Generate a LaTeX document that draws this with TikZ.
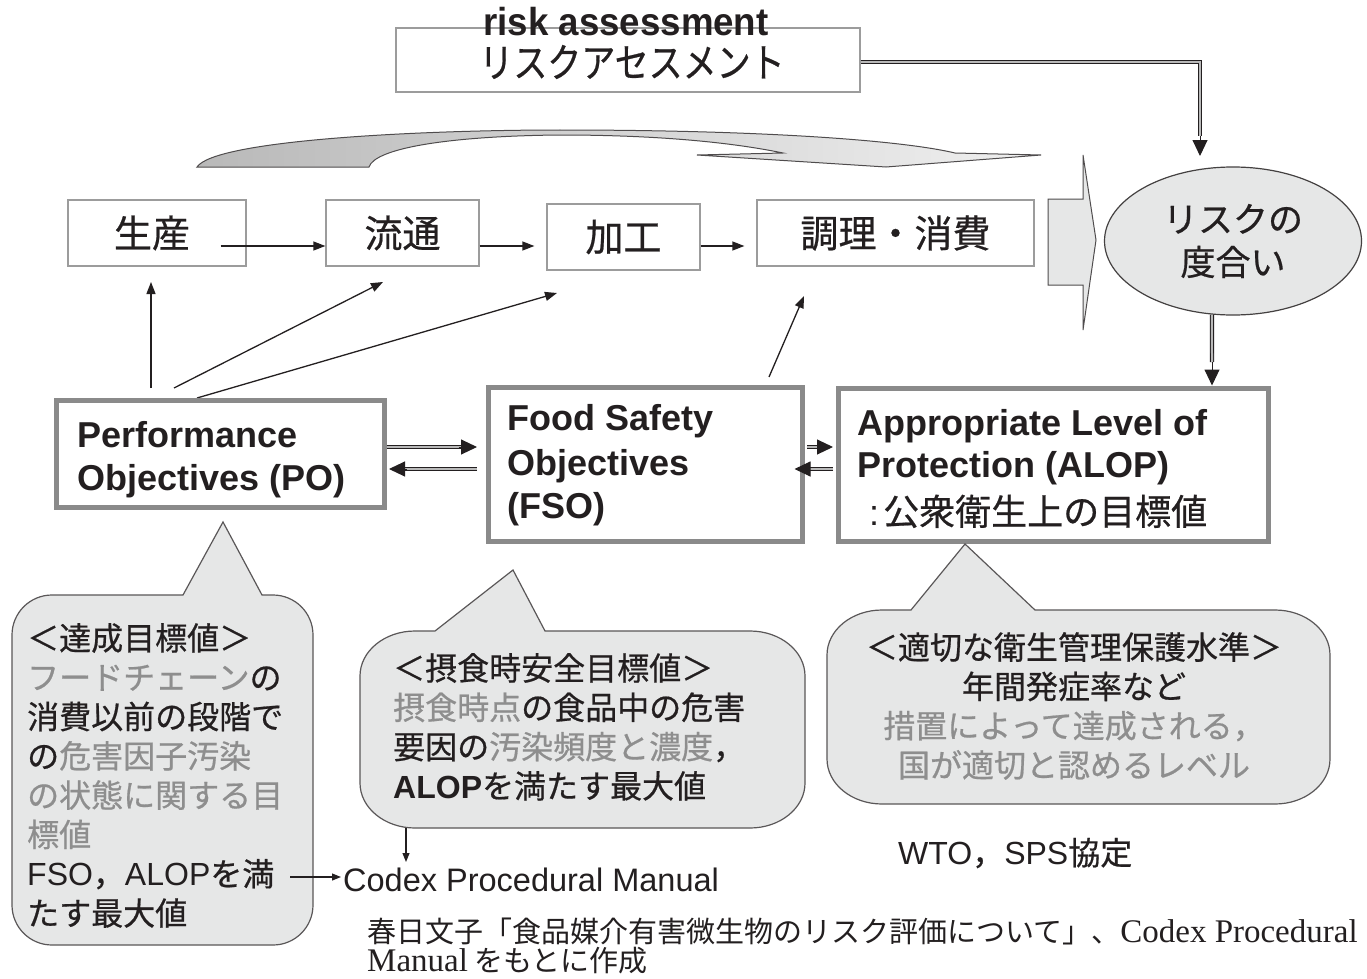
\documentclass[tikz,border=0pt]{standalone}
\usepackage{fontspec}
\setmainfont{Liberation Serif}
\newfontfamily\jp[FakeBold=0.6]{Noto Sans CJK JP}
\newfontfamily\jpl{Noto Sans CJK JP}
\newfontfamily\en{Liberation Sans}
\usetikzlibrary{arrows.meta,shapes.geometric}
\definecolor{bubfill}{HTML}{E6E7E7}
\definecolor{txtgray}{HTML}{8E8E8E}
\definecolor{boxgray}{HTML}{8A8A8A}
\definecolor{thingray}{HTML}{9C9C9C}
\definecolor{ink}{HTML}{231F20}
\newcommand{\gry}[1]{{\color{txtgray}#1}}
\begin{document}
\begin{tikzpicture}[x=1pt,y=-1pt,
  every node/.style={inner sep=0pt, text=ink},
  thinbox/.style={draw=thingray, line width=1.3pt, fill=white},
  thickbox/.style={draw=boxgray, line width=5pt, fill=white},
  arr/.style={-{Triangle[length=12pt,width=9pt]}, line width=1.3pt, draw=ink},
  harr/.style={-{Triangle[length=16pt,width=15pt]}, line width=1pt, draw=ink},
  sarr/.style={-{Triangle[length=9pt,width=7pt]}, line width=1.1pt, draw=ink},
  dbl/.style={draw=ink, double=gray!55, double distance=2pt, line width=1.1pt},
  bubble/.style={draw=ink!75, line width=1.2pt, fill=bubfill},
  jpbox/.style={font=\jp\fontsize{38}{40}\selectfont},
  enb/.style={font=\en\bfseries\fontsize{36}{43}\selectfont, anchor=base west},
  bub/.style={font=\jp\fontsize{32}{39.3}\selectfont},
]
\fill[white] (0,0) rectangle (1367,979);
\useasboundingbox (0,0) rectangle (1367,979);

% risk assessment box
\node[thinbox, minimum width=464, minimum height=64] (ra) at (628,60) {};
\node[font=\en\bfseries\fontsize{39}{40}\selectfont, anchor=base] (ratitle) at (626,36) {\scalebox{0.94}[1]{risk assessment}};
\node[font=\jp\fontsize{40}{42}\selectfont] (rajp) at (632,62) {\scalebox{0.85}[1]{リスクアセスメント}};

% curved swoosh arrow
\shadedraw[left color=gray!55, right color=gray!12, draw=ink!80, line width=1pt]
  (197,167) .. controls (215,140) and (420,130) .. (560,130)
  .. controls (760,130) and (900,140) .. (955,153) -- (1041,155) -- (886,167) -- (697,155) -- (783,153)
  .. controls (720,140) and (640,135) .. (560,135)
  .. controls (450,136) and (375,148) .. (369,167) -- cycle;

% chevron
\draw[fill=bubfill, draw=ink!80, line width=1pt] (1048,199) -- (1083,199) -- (1083,155) -- (1096,240) -- (1083,330) -- (1083,285) -- (1048,285) -- cycle;

% risk ellipse
\node[ellipse, draw=ink!85, line width=1.2pt, fill=bubfill, minimum width=257, minimum height=148, align=center, font=\jp\fontsize{35}{43}\selectfont] (risk) at (1233,241) {リスクの\\度合い};

% top chain boxes
\node[thinbox, jpbox, minimum width=178, minimum height=66] (s1) at (157,233) {\hspace*{-10pt}生産};
\node[thinbox, jpbox, minimum width=153, minimum height=66] (s2) at (402.5,233) {流通};
\node[thinbox, jpbox, minimum width=153, minimum height=66] (s3) at (623.5,237) {加工};
\node[thinbox, jpbox, minimum width=277, minimum height=66] (s4) at (895.5,233) {調理・消費};

\draw[arr] ([xshift=-26pt,yshift=-13pt]s1.east) -- ([yshift=-13pt]s2.west);
\draw[arr] ([yshift=-13pt]s2.east) -- ([xshift=-12pt,yshift=-9pt]s3.west);
\draw[arr] ([yshift=-9pt]s3.east) -- ([xshift=-12pt,yshift=-13pt]s4.west);

% risk assessment -> risk
\coordinate (raB) at (1200,136);
\coordinate (raT) at (1200,156);
\draw[dbl] ([yshift=-2pt]ra.east) -| (raB);
\draw[harr] (raB) -- (raT);

% upward arrows
\coordinate (u1s) at (151,388); \coordinate (u1e) at (151,282);
\coordinate (u2s) at (174,388); \coordinate (u2e) at (383,282);
\coordinate (u3s) at (197,398); \coordinate (u3e) at (557,293);
\coordinate (u4s) at (769,377); \coordinate (u4e) at (804,296);
\draw[arr] (u1s) -- (u1e);
\draw[arr] (u2s) -- (u2e);
\draw[arr] (u3s) -- (u3e);
\draw[arr] (u4s) -- (u4e);

% thick boxes
\node[thickbox, minimum width=328, minimum height=107] (po) at (220,453.5) {};
\node[thickbox, minimum width=314, minimum height=154] (fso) at (645,464) {};
\node[thickbox, minimum width=430, minimum height=153] (alop) at (1053,464.5) {};

\node[enb] (po1) at (77,447) {Performance};
\node[enb] (po2) at (77,490) {Objectives (PO)};
\node[enb] (fs1) at (507,430) {Food Safety};
\node[enb] (fs2) at (507,475) {Objectives};
\node[enb] (fs3) at (507,518) {(FSO)};
\node[enb] (al1) at (857,435) {Appropriate Level of};
\node[enb] (al2) at (857,477) {Protection (ALOP)};
\node[font=\jp\fontsize{36}{40}\selectfont, anchor=base west] (al3) at (857,525) {\hspace{12pt}{\en :}\hspace{4pt}公衆衛生上の目標値};

% risk -> ALOP
\coordinate (rkB) at (1212,362);
\draw[dbl] (risk.-106) -- (rkB);
\draw[harr] (rkB) -- (alop.north -| rkB);

% double arrows between thick boxes
\coordinate (pf1) at ([yshift=6.5pt]po.east);
\coordinate (pf2) at (477,447);
\draw[dbl, shorten >=12pt] (pf1) -- (pf2);
\draw[harr, shorten <=72pt] (pf1) -- (pf2);

\coordinate (fp1) at (477,469);
\coordinate (fp2) at ([xshift=2.5pt,yshift=-15.5pt]po.east);
\draw[dbl, shorten >=12pt] (fp1) -- (fp2);
\draw[harr, shorten <=70pt] (fp1) -- (fp2);

\coordinate (fa1) at ([xshift=2.5pt,yshift=17pt]fso.east);
\coordinate (fa2) at ([xshift=-2.5pt,yshift=17.5pt]alop.west);
\draw[dbl, shorten >=12pt] (fa1) -- (fa2);
\draw[harr, shorten <=12pt] (fa1) -- (fa2);

\coordinate (af1) at ([xshift=-2.5pt,yshift=-4.5pt]alop.west);
\coordinate (af2) at ([xshift=-10pt,yshift=-5pt]fso.east);
\draw[dbl, shorten >=12pt] (af1) -- (af2);
\draw[harr, shorten <=24pt] (af1) -- (af2);

% bubbles
\draw[bubble] (262,595) -- (273,595) arc[start angle=-90,end angle=0,radius=40] -- (313,905)
  arc[start angle=0,end angle=90,radius=40] -- (52,945)
  arc[start angle=90,end angle=180,radius=40] -- (12,635)
  arc[start angle=180,end angle=270,radius=40] -- (183,595) -- (223,522) -- cycle;

\draw[bubble] (545,631) -- (750,631) arc[start angle=-90,end angle=0,x radius=55,y radius=45] -- (805,783)
  arc[start angle=0,end angle=90,x radius=55,y radius=45] -- (415,828)
  arc[start angle=90,end angle=180,x radius=55,y radius=45] -- (360,676)
  arc[start angle=180,end angle=270,x radius=55,y radius=45] -- (435,631) -- (513,570) -- cycle;

\draw[bubble] (1035,610) -- (1275,610) arc[start angle=-90,end angle=0,x radius=55,y radius=45] -- (1330,759)
  arc[start angle=0,end angle=90,x radius=55,y radius=45] -- (882,804)
  arc[start angle=90,end angle=180,x radius=55,y radius=45] -- (827,655)
  arc[start angle=180,end angle=270,x radius=55,y radius=45] -- (911,610) -- (965,544) -- cycle;

\node[bub, anchor=north west, align=left] (b1t) at (27,623)
  {＜達成目標値＞\\\gry{フードチェーン}の\\消費以前の段階で\\の\gry{危害因子汚染}\\\gry{の状態に関する目}\\\gry{標値}\\{\en FSO}，{\en ALOP}を満\\たす最大値};
\node[bub, anchor=north west, align=left] (b2t) at (393,653)
  {＜摂食時安全目標値＞\\\gry{摂食時点}の食品中の危害\\要因の\gry{汚染頻度と濃度}，\\{\en\bfseries ALOP}を満たす最大値};
\node[bub, anchor=north, align=center] (b3t) at (1074,632)
  {＜適切な衛生管理保護水準＞\\年間発症率など\\\gry{措置によって達成される，}\\\gry{国が適切と認めるレベル}};

% Codex
\node[font=\en\fontsize{32.5}{35}\selectfont, anchor=west] (cpm) at (343,880) {Codex Procedural Manual};
\coordinate (cpa) at (290,877);
\draw[sarr, shorten >=2pt] (cpa) -- (cpm.west |- cpa);
\coordinate (b2b) at (406,828);
\coordinate (b2e) at (406,862);
\draw[sarr] (b2b) -- (b2e);

\node[font=\jp\fontsize{32}{34}\selectfont, anchor=west] (wto) at (898,853) {{\en WTO}，{\en SPS}協定};

\node[font=\jpl\fontsize{29}{32}\selectfont, anchor=west] (ft1) at (367,931) {春日文子「食品媒介有害微生物のリスク評価について」、{\rmfamily\fontsize{33}{34}\selectfont Codex Procedural}};
\node[font=\jpl\fontsize{29}{32}\selectfont, anchor=west] (ft2) at (367,961) {{\rmfamily\fontsize{33}{34}\selectfont Manual} をもとに作成};
\end{tikzpicture}
\end{document}
